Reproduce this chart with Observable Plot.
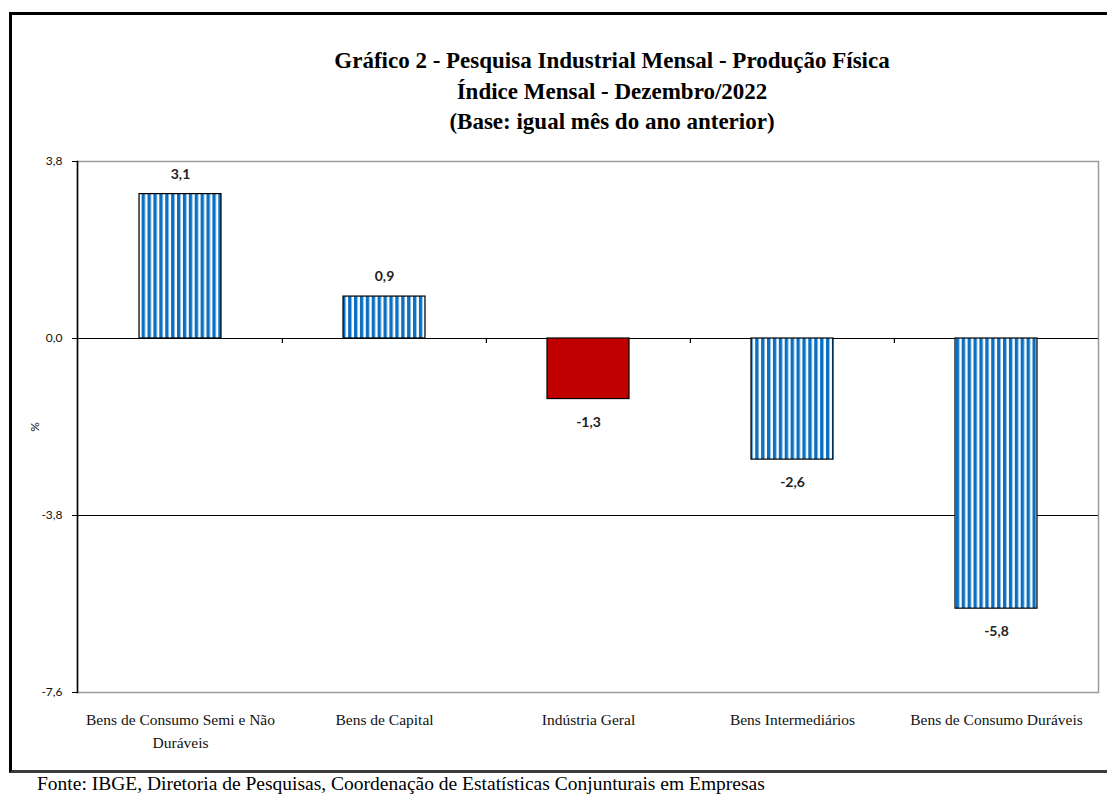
<!DOCTYPE html>
<html>
<head>
<meta charset="utf-8">
<script src="https://cdn.jsdelivr.net/npm/d3@7"></script>
<script src="https://cdn.jsdelivr.net/npm/@observablehq/plot@0.6"></script>
<style>
  html, body { margin: 0; padding: 0; background: #fff; }
  #wrap { position: relative; width: 1107px; height: 796px; overflow: hidden; background: #fff; }
  #box { position: absolute; left: 9px; top: 12px; width: 1200px; height: 755px;
         border-left: 3px solid #000; border-top: 3px solid #000; border-bottom: 3px solid #3a3a3a; }
  #title { position: absolute; left: 0; top: 46px; width: 1224px; text-align: center;
           font-family: "Liberation Serif", serif; font-weight: bold; font-size: 23px; line-height: 30.5px; color: #000; }
  #footer { position: absolute; left: 37px; top: 774px; font-family: "Liberation Serif", serif;
            font-size: 19.5px; line-height: 20px; color: #000; white-space: nowrap; }
  #chart { position: absolute; left: 0; top: 0; }
</style>
</head>
<body>
<div id="wrap">
  <div id="box"></div>
  <div id="chart"></div>
  <div id="title">Gráfico 2 - Pesquisa Industrial Mensal - Produção Física<br>Índice Mensal - Dezembro/2022<br>(Base: igual mês do ano anterior)</div>
  <div id="footer">Fonte: IBGE, Diretoria de Pesquisas, Coordenação de Estatísticas Conjunturais em Empresas</div>
</div>
<script>
const categories = ["Bens de Consumo Semi e Não Duráveis", "Bens de Capital", "Indústria Geral", "Bens Intermediários", "Bens de Consumo Duráveis"];
const tickLabels = ["Bens de Consumo Semi e Não\nDuráveis", "Bens de Capital", "Indústria Geral", "Bens Intermediários", "Bens de Consumo Duráveis"];
const values = [3.1, 0.9, -1.3, -2.6, -5.8];
const yTicks = [3.8, 0, -3.8, -7.6];
const highlight = "Indústria Geral";

const data = categories.map((c, i) => ({category: c, value: values[i]}));
const fmt = v => v.toFixed(1).replace(".", ",");

const W = 1107, H = 796, mL = 77, mR = 9, mT = 161, mB = 104;
const step = (W - mL - mR) / categories.length;

const plot = Plot.plot({
  width: W, height: H,
  marginLeft: mL, marginRight: mR, marginTop: mT, marginBottom: mB,
  style: {fontFamily: "Lato, sans-serif", background: "transparent", overflow: "visible"},
  x: {domain: categories, paddingInner: 0.6, paddingOuter: 0.3, label: null},
  y: {domain: [-7.6, 3.8], label: null},
  color: {type: "identity"},
  marks: [
    Plot.frame({stroke: "#9a9a9a", strokeWidth: 1.5}),
    Plot.ruleY([yTicks[1], yTicks[2]], {stroke: "#000", strokeWidth: 1.2}),
    Plot.barY(data, {
      x: "category", y: "value",
      fill: d => d.category === highlight ? "#C00000" : "url(#stripes)",
      stroke: "#000", strokeWidth: 1.2
    }),
    Plot.ruleX(categories.slice(1), {x: d => d, y1: 0, y2: -0.11, dx: -step / 2, stroke: "#000", strokeWidth: 1.2}),
    Plot.text(data, {
      x: "category", y: "value", text: d => fmt(d.value),
      fontWeight: "bold", fontSize: 14, fill: "#222",
      filter: d => d.value >= 0, dy: -20
    }),
    Plot.text(data, {
      x: "category", y: "value", text: d => fmt(d.value),
      fontWeight: "bold", fontSize: 14, fill: "#222",
      filter: d => d.value < 0, dy: 23
    }),
    Plot.axisY({
      ticks: yTicks, tickFormat: fmt, tickSize: 5, tickPadding: 10,
      fontSize: 12, fill: "#111", stroke: "#000",
      label: "%", labelAnchor: "center", labelOffset: 47, labelArrow: "none"
    }),
    Plot.frame({anchor: "left", stroke: "#000", strokeWidth: 1.5}),
    Plot.axisX({
      tickSize: 0, tickPadding: 17, fontSize: 15.5, lineHeight: 1.45,
      fontFamily: "Liberation Serif, serif", fill: "#111",
      tickFormat: d => tickLabels[categories.indexOf(d)], label: null
    })
  ]
});

// stripe pattern definition
const ns = "http://www.w3.org/2000/svg";
const defs = document.createElementNS(ns, "defs");
defs.innerHTML = '<pattern id="stripes" patternUnits="userSpaceOnUse" width="5.9" height="10">' +
  '<rect x="0" y="0" width="5.9" height="10" fill="#ffffff"/>' +
  '<rect x="0" y="0" width="3.4" height="10" fill="#0A70C4"/></pattern>';
plot.insertBefore(defs, plot.firstChild);

document.getElementById("chart").appendChild(plot);
</script>
</body>
</html>
